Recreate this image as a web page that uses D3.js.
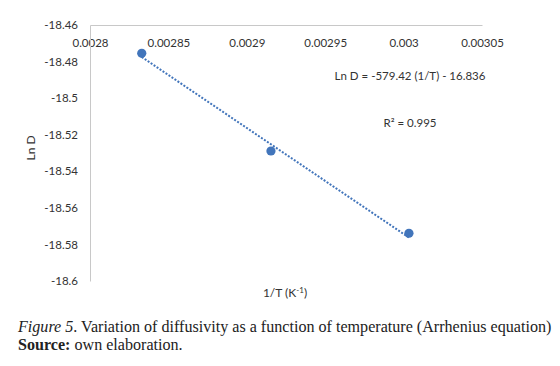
<!DOCTYPE html>
<html><head><meta charset="utf-8">
<script src="https://cdn.jsdelivr.net/npm/d3@7"></script>
<style>body{margin:0;background:#fff}svg{display:block}</style>
</head><body>
<svg id="c" width="560" height="366"></svg>
<script>
const invT = [0.002833, 0.0029154, 0.0030034];
const lnD = [-18.4755, -18.5289, -18.5739];
const xTicks = [0.0028, 0.00285, 0.0029, 0.00295, 0.003, 0.00305];
const yTicks = [-18.46, -18.48, -18.5, -18.52, -18.54, -18.56, -18.58, -18.6];
const slope = -579.42, intercept = -16.836;
const eqText = "Ln D = -579.42 (1/T) - 16.836";
const r2Text = "R² = 0.995";

const svg = d3.select("#c");
const x = d3.scaleLinear().domain([0.0028, 0.00305]).range([90, 482]);
const y = d3.scaleLinear().domain([-18.46, -18.6]).range([25, 281]);
const font = "Lato, 'Open Sans', sans-serif";
const blue = "#4275bb";

// axes
const xa = svg.append("g").attr("transform", `translate(0,${y(-18.46)})`)
  .call(d3.axisTop(x).tickValues(xTicks).tickSize(0).tickPadding(0).tickFormat(d => String(+d.toFixed(5))));
xa.select(".domain").attr("stroke", "#c8c8c8");
xa.selectAll("text").attr("font-family", font).attr("font-size", 11.5).attr("fill", "#333")
  .attr("dy", 0).attr("y", 22);

const ya = svg.append("g").attr("transform", `translate(${x(0.0028)},0)`)
  .call(d3.axisLeft(y).tickValues(yTicks).tickSize(0).tickPadding(12).tickFormat(d => String(+d.toFixed(2))));
ya.select(".domain").attr("stroke", "#c8c8c8");
ya.selectAll("text").attr("font-family", font).attr("font-size", 11.5).attr("fill", "#333");

// trendline
const xs = d3.extent(invT);
svg.append("line")
  .attr("x1", x(xs[0])).attr("y1", y(slope * xs[0] + intercept))
  .attr("x2", x(xs[1])).attr("y2", y(slope * xs[1] + intercept))
  .attr("stroke", blue).attr("stroke-width", 2).attr("stroke-dasharray", "2,1.6");

// points
svg.selectAll("circle.p").data(invT).join("circle").attr("class", "p")
  .attr("cx", d => x(d)).attr("cy", (d, i) => y(lnD[i])).attr("r", 4.6).attr("fill", blue);

// texts
svg.append("text").attr("x", 410).attr("y", 80).attr("text-anchor", "middle")
  .attr("font-family", font).attr("font-size", 11.5).attr("fill", "#333").text(eqText);
svg.append("text").attr("x", 410).attr("y", 127).attr("text-anchor", "middle")
  .attr("font-family", font).attr("font-size", 11.5).attr("fill", "#333").text(r2Text);

svg.append("text").attr("transform", "translate(35,148) rotate(-90)").attr("text-anchor", "middle")
  .attr("font-family", font).attr("font-size", 12).attr("fill", "#333").text("Ln D");

const xt = svg.append("text").attr("x", 285).attr("y", 297).attr("text-anchor", "middle")
  .attr("font-family", font).attr("font-size", 12).attr("fill", "#333");
xt.append("tspan").text("1/T (K");
xt.append("tspan").attr("font-size", 8).attr("dy", -4).text("-1");
xt.append("tspan").attr("dy", 4).text(")");

// caption
const serif = "'Liberation Serif', 'Times New Roman', serif";
const c1 = svg.append("text").attr("x", 18).attr("y", 332).attr("font-family", serif).attr("font-size", 16.1).attr("fill", "#222");
c1.append("tspan").attr("font-style", "italic").text("Figure 5");
c1.append("tspan").text(". Variation of diffusivity as a function of temperature (Arrhenius equation)");
const c2 = svg.append("text").attr("x", 18).attr("y", 350).attr("font-family", serif).attr("font-size", 16.1).attr("fill", "#222");
c2.append("tspan").attr("font-weight", "bold").text("Source:");
c2.append("tspan").text(" own elaboration.");
</script>
</body></html>
